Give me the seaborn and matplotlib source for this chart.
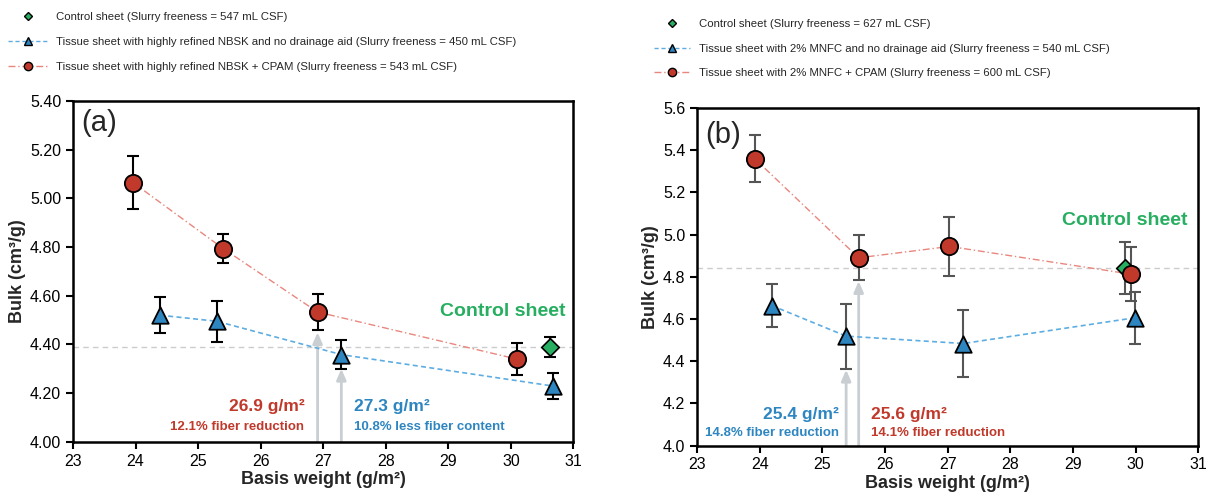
import numpy as np
import pandas as pd
import matplotlib
matplotlib.use("Agg")
import matplotlib.pyplot as plt
import seaborn as sns
from matplotlib.lines import Line2D

sns.set_style("ticks")
plt.rcParams['font.family'] = ['Liberation Sans', 'DejaVu Sans']

# ---------------- data ----------------
# panel (a)
a_ctrl_x = [30.63]
a_ctrl_y = [4.39]
a_ctrl_err = [0.042]
a_blue_x = [24.39, 25.30, 27.29, 30.67]
a_blue_y = [4.52, 4.495, 4.358, 4.229]
a_blue_err = [0.075, 0.085, 0.060, 0.054]
a_red_x = [23.96, 25.40, 26.91, 30.09]
a_red_y = [5.065, 4.794, 4.533, 4.340]
a_red_err = [0.110, 0.061, 0.074, 0.065]
a_ref = 4.39
a_arrows_x = [26.91, 27.29]
a_arrows_y = [4.45, 4.30]
a_labels = ["Control sheet (Slurry freeness = 547 mL CSF)",
            "Tissue sheet with highly refined NBSK and no drainage aid (Slurry freeness = 450 mL CSF)",
            "Tissue sheet with highly refined NBSK + CPAM (Slurry freeness = 543 mL CSF)"]

# panel (b)
b_ctrl_x = [29.83]
b_ctrl_y = [4.842]
b_ctrl_err = [0.125]
b_blue_x = [24.19, 25.38, 27.25, 29.99]
b_blue_y = [4.664, 4.519, 4.484, 4.606]
b_blue_err = [0.103, 0.154, 0.157, 0.124]
b_red_x = [23.92, 25.58, 27.03, 29.92]
b_red_y = [5.360, 4.890, 4.944, 4.813]
b_red_err = [0.112, 0.107, 0.139, 0.128]
b_ref = 4.842
b_arrows_x = [25.38, 25.58]
b_arrows_y = [4.36, 4.78]
b_labels = ["Control sheet (Slurry freeness = 627 mL CSF)",
            "Tissue sheet with 2% MNFC and no drainage aid (Slurry freeness = 540 mL CSF)",
            "Tissue sheet with 2% MNFC + CPAM (Slurry freeness = 600 mL CSF)"]

RED = '#C0392B'
BLUE = '#2E86C1'
GREEN = '#27AE60'
RED_LINE = '#E8877E'
BLUE_LINE = '#5DADE2'
ARROW = '#C9CED3'

fig = plt.figure(figsize=(12.06, 4.93), dpi=100)
ax_a = fig.add_axes([0.0605, 0.104, 0.415, 0.691])
ax_b = fig.add_axes([0.578, 0.096, 0.4155, 0.685])


def panel(ax, cx, cy, ce, bx, by, be, rx, ry, re, ref, arr_x, arr_y, ecol, ylim, yfmt):
    ax.axhline(ref, color='#CCCCCC', lw=1, dashes=(4, 3), zorder=1)
    for x, y in zip(arr_x, arr_y):
        ax.annotate("", xy=(x, y), xytext=(x, ylim[0]),
                    arrowprops=dict(arrowstyle='-|>,head_width=0.28,head_length=0.65',
                                    color=ARROW, lw=2, shrinkA=0, shrinkB=0), zorder=1.5)
    dfb = pd.DataFrame({"x": bx, "y": by})
    dfr = pd.DataFrame({"x": rx, "y": ry})
    # control
    ax.errorbar(cx, cy, yerr=ce, fmt='none', ecolor=ecol, elinewidth=1.5, capsize=4.5, capthick=1.5, zorder=2)
    sns.scatterplot(x=cx, y=cy, ax=ax, marker='D', s=80, color=GREEN, edgecolor='black', linewidth=1.2, zorder=3)
    # blue
    sns.lineplot(data=dfb, x="x", y="y", ax=ax, sort=False, estimator=None, color=BLUE_LINE,
                 lw=1.2, dashes=False, linestyle=(0, (3, 2)), zorder=1.8)
    ax.errorbar(bx, by, yerr=be, fmt='none', ecolor=ecol, elinewidth=1.5, capsize=4.5, capthick=1.5, zorder=2)
    sns.scatterplot(data=dfb, x="x", y="y", ax=ax, marker='^', s=140, color=BLUE, edgecolor='black', linewidth=1.3, zorder=3)
    # red
    sns.lineplot(data=dfr, x="x", y="y", ax=ax, sort=False, estimator=None, color=RED_LINE,
                 lw=1.0, dashes=False, linestyle=(0, (5, 2, 1, 2)), zorder=1.8)
    ax.errorbar(rx, ry, yerr=re, fmt='none', ecolor=ecol, elinewidth=1.5, capsize=4.5, capthick=1.5, zorder=2)
    sns.scatterplot(data=dfr, x="x", y="y", ax=ax, marker='o', s=155, color=RED, edgecolor='black', linewidth=1.3, zorder=3.2)

    ax.set_xlim(23, 31)
    ax.set_ylim(*ylim)
    ax.set_xticks(np.arange(23, 32, 1))
    ax.set_yticks(np.arange(ylim[0], ylim[1] + 0.001, 0.2))
    ax.set_yticklabels([yfmt % v for v in np.arange(ylim[0], ylim[1] + 0.001, 0.2)])
    ax.tick_params(axis='both', labelsize=11.5, direction='out', length=5, width=1.5, colors='black')
    for s in ax.spines.values():
        s.set_linewidth(1.8)
        s.set_color('black')
    ax.set_xlabel("Basis weight (g/m²)", fontsize=13, fontweight='bold', labelpad=2)
    ax.set_ylabel("Bulk (cm³/g)", fontsize=13, fontweight='bold', labelpad=3)


panel(ax_a, a_ctrl_x, a_ctrl_y, a_ctrl_err, a_blue_x, a_blue_y, a_blue_err,
      a_red_x, a_red_y, a_red_err, a_ref, a_arrows_x, a_arrows_y, 'black', (4.0, 5.4), "%.2f")
panel(ax_b, b_ctrl_x, b_ctrl_y, b_ctrl_err, b_blue_x, b_blue_y, b_blue_err,
      b_red_x, b_red_y, b_red_err, b_ref, b_arrows_x, b_arrows_y, '#555555', (4.0, 5.6), "%.1f")

# annotations panel (a)
ax_a.text(23.14, 5.31, "(a)", fontsize=21, va='center', ha='left')
ax_a.text(26.70, 4.145, "26.9 g/m²", color=RED, fontsize=12.5, fontweight='bold', ha='right', va='center')
ax_a.text(26.70, 4.06, "12.1% fiber reduction", color=RED, fontsize=9.5, fontweight='bold', ha='right', va='center')
ax_a.text(27.50, 4.145, "27.3 g/m²", color=BLUE, fontsize=12.5, fontweight='bold', ha='left', va='center')
ax_a.text(27.50, 4.06, "10.8% less fiber content", color=BLUE, fontsize=9.5, fontweight='bold', ha='left', va='center')
ax_a.text(28.87, 4.535, "Control sheet", color=GREEN, fontsize=14, fontweight='bold', ha='left', va='center')

# annotations panel (b)
ax_b.text(23.13, 5.47, "(b)", fontsize=21, va='center', ha='left')
ax_b.text(25.27, 4.15, "25.4 g/m²", color=BLUE, fontsize=12.5, fontweight='bold', ha='right', va='center')
ax_b.text(25.27, 4.06, "14.8% fiber reduction", color=BLUE, fontsize=9.5, fontweight='bold', ha='right', va='center')
ax_b.text(25.77, 4.15, "25.6 g/m²", color=RED, fontsize=12.5, fontweight='bold', ha='left', va='center')
ax_b.text(25.77, 4.06, "14.1% fiber reduction", color=RED, fontsize=9.5, fontweight='bold', ha='left', va='center')
ax_b.text(28.83, 5.068, "Control sheet", color=GREEN, fontsize=14, fontweight='bold', ha='left', va='center')


def legend_handles():
    h1 = Line2D([], [], linestyle='none', marker='D', markersize=4, markerfacecolor=GREEN, markeredgecolor='black')
    h2 = Line2D([], [], color=BLUE_LINE, lw=1, linestyle=(0, (3, 2)), marker='^', markersize=6,
                markerfacecolor=BLUE, markeredgecolor='black')
    h3 = Line2D([], [], color=RED_LINE, lw=1, linestyle=(0, (5, 2, 1, 2)), marker='o', markersize=6,
                markerfacecolor=RED, markeredgecolor='black')
    return [h1, h2, h3]


fig.legend(legend_handles(), a_labels, loc='upper left', bbox_to_anchor=(0.007, 0.975),
           frameon=False, fontsize=8.2, handlelength=3.4, handletextpad=0.75, labelspacing=1.3,
           borderpad=0, borderaxespad=0)
fig.legend(legend_handles(), b_labels, loc='upper left', bbox_to_anchor=(0.542, 0.962),
           frameon=False, fontsize=8.2, handlelength=3.2, handletextpad=0.75, labelspacing=1.3,
           borderpad=0, borderaxespad=0)

for ax in (ax_a, ax_b):
    leg = ax.get_legend()
    if leg is not None:
        leg.remove()

fig.savefig("out.png", dpi=100)
